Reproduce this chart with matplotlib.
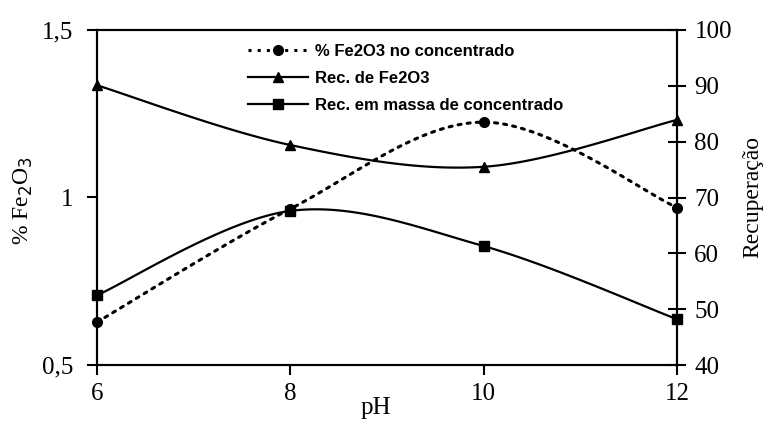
import numpy as np
import matplotlib
matplotlib.use("Agg")
import matplotlib.pyplot as plt
from matplotlib.ticker import FixedLocator, FuncFormatter
from matplotlib.lines import Line2D

ph = [6, 8, 10, 12]
fe2o3_conc = [0.628, 0.966, 1.225, 0.97]
rec_fe2o3 = [90.1, 79.4, 75.5, 83.9]
rec_massa = [52.5, 67.6, 61.3, 48.2]
labels = ["% Fe2O3 no concentrado", "Rec. de Fe2O3", "Rec. em massa de concentrado"]


def smooth(x, y, n=40):
    x = np.asarray(x, float)
    y = np.asarray(y, float)
    px = np.concatenate([[x[0]], x, [x[-1]]])
    py = np.concatenate([[y[0]], y, [y[-1]]])
    xs, ys = [], []
    for i in range(1, len(px) - 2):
        p0 = np.array([px[i], py[i]])
        p3 = np.array([px[i + 1], py[i + 1]])
        p1 = p0 + (np.array([px[i + 1], py[i + 1]]) - np.array([px[i - 1], py[i - 1]])) / 6
        p2 = p3 - (np.array([px[i + 2], py[i + 2]]) - np.array([px[i], py[i]])) / 6
        t = np.linspace(0, 1, n)[:, None]
        b = (1 - t) ** 3 * p0 + 3 * (1 - t) ** 2 * t * p1 + 3 * (1 - t) * t ** 2 * p2 + t ** 3 * p3
        xs.extend(b[:, 0])
        ys.extend(b[:, 1])
    return np.array(xs), np.array(ys)


serif = "Liberation Serif"
fs = 18
fig = plt.figure(figsize=(7.71, 4.24), dpi=100)
ax = fig.add_axes([97 / 771, 1 - 365 / 424, 580 / 771, 335 / 424])
ax2 = ax.twinx()

ax.set_xlim(6, 12)
ax.set_ylim(0.5, 1.5)
ax2.set_ylim(40, 100)

lw = 1.6
sx, sy = smooth(ph, fe2o3_conc)
ax.plot(sx, sy, color="black", lw=2.2, linestyle=(0, (1, 2.0)), dash_capstyle="round")
ax.plot(ph, fe2o3_conc, "o", color="black", ms=7, clip_on=False, zorder=5)

sx, sy = smooth(ph, rec_fe2o3)
ax2.plot(sx, sy, color="black", lw=lw)
ax2.plot(ph, rec_fe2o3, "^", color="black", ms=7, clip_on=False, zorder=5)

sx, sy = smooth(ph, rec_massa)
ax2.plot(sx, sy, color="black", lw=lw)
ax2.plot(ph, rec_massa, "s", color="black", ms=6.5, clip_on=False, zorder=5)

for a in (ax, ax2):
    for s in a.spines.values():
        s.set_linewidth(1.5)

ax.set_xticks(ph)
ax.set_xticklabels([str(p) for p in ph], fontfamily=serif, fontsize=fs)
ax.yaxis.set_major_locator(FixedLocator([0.5, 1.0, 1.5]))
ax.yaxis.set_major_formatter(FuncFormatter(lambda v, p: ("%g" % v).replace(".", ",")))
ax.tick_params(axis="y", direction="out", length=7, width=1.5, labelsize=fs, pad=10)
ax.tick_params(axis="x", direction="out", length=7, width=1.5, labelsize=fs, pad=6)
for t in ax.get_yticklabels():
    t.set_fontfamily(serif)

ax2.set_yticks([40, 50, 60, 70, 80, 90, 100])
ax2.tick_params(axis="y", direction="inout", length=13, width=1.5, labelsize=fs, pad=6)
for t in ax2.get_yticklabels():
    t.set_fontfamily(serif)

ax.set_ylabel("% Fe$_2$O$_3$", fontfamily=serif, fontsize=17)
ax.yaxis.set_label_coords(-0.107, 0.49)
ax2.set_ylabel("Recuperação", fontfamily=serif, fontsize=17)
ax2.yaxis.set_label_coords(1.113, 0.5)
ax.set_xlabel("pH", fontfamily=serif, fontsize=fs)
ax.xaxis.set_label_coords(0.481, -0.097)

handles = [
    Line2D([], [], color="black", lw=2.2, linestyle=(0, (1, 2.0)), marker="o", ms=7),
    Line2D([], [], color="black", lw=lw, marker="^", ms=7),
    Line2D([], [], color="black", lw=lw, marker="s", ms=6.5),
]
leg = ax.legend(handles, labels, loc="upper left", bbox_to_anchor=(240 / 771, 1 - 36 / 424),
                bbox_transform=fig.transFigure, frameon=False, handlelength=3.6,
                handletextpad=0.4, labelspacing=0.72, borderpad=0,
                prop={"family": "Liberation Sans", "weight": "bold", "size": 12})

fig.savefig("out.png", dpi=100)
